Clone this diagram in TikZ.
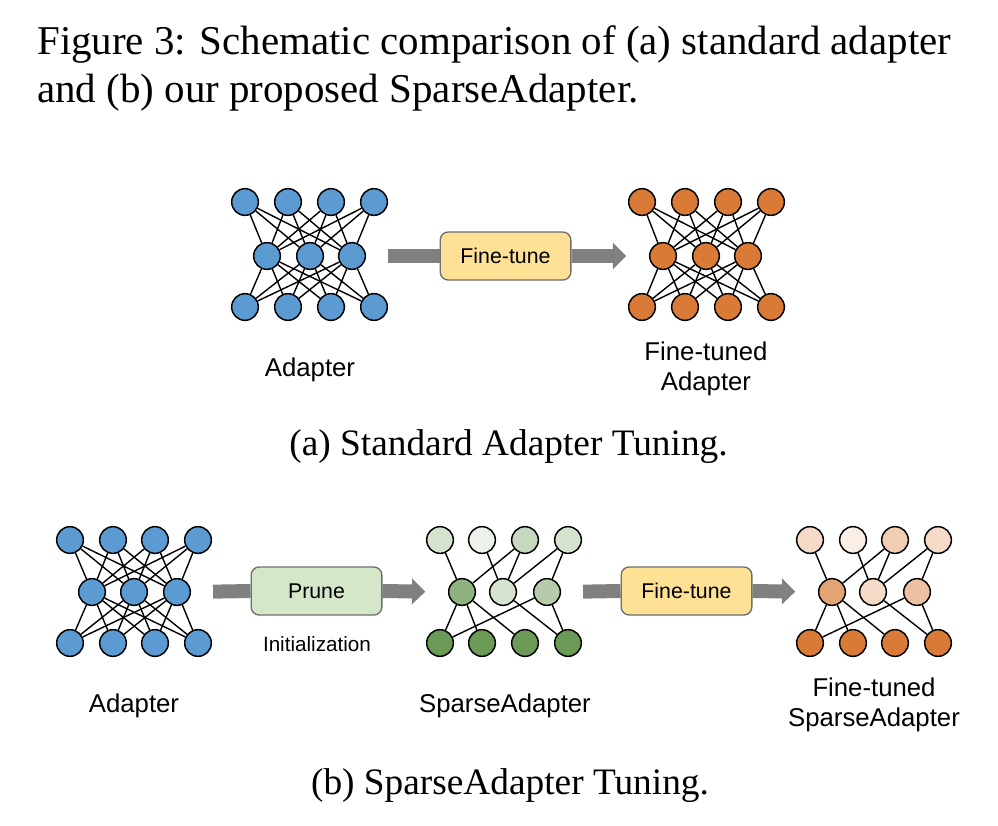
\documentclass[tikz,border=0pt]{standalone}
\usepackage{fontspec}
\setmainfont{Liberation Serif}
\setsansfont{Liberation Sans}
\usetikzlibrary{arrows.meta}

\definecolor{adblue}{HTML}{5B9BD2}
\definecolor{adorange}{HTML}{D97B36}
\definecolor{adgreen}{HTML}{6A9A55}
\definecolor{tunefill}{HTML}{FFE196}
\definecolor{prunefill}{HTML}{D4E7C8}
\definecolor{bargray}{HTML}{808080}
\definecolor{boxline}{HTML}{6E6E6E}

\begin{document}
\begin{tikzpicture}[
    x=0.75pt, y=-0.75pt,
    neuron/.style={circle,draw,line width=1.1pt,minimum size=20pt,inner sep=0pt},
    link/.style={line width=1.05pt},
    flow/.style={draw=bargray,line width=10.5pt},
    flow tip/.style={flow,-{Triangle[length=10pt,width=19pt]},shorten >=17pt},
    op box/.style={draw=boxline,line width=1pt,rounded corners=6pt,minimum width=98pt,
        minimum height=36pt,font=\sffamily\fontsize{16}{19}\selectfont},
    name text/.style={align=center,font=\sffamily\fontsize{19.3}{22.5}\selectfont},
    caption text/.style={font=\fontsize{28}{34}\selectfont},
    title text/.style={anchor=base west,inner sep=0pt,font=\fontsize{30.7}{36}\selectfont}
    ]
    \path[fill=white,use as bounding box] (0,0) rectangle (998,825);
    % title
    \node[title text] (title1) at (37,54)
        {Figure 3: Schematic comparison of (a) standard adapter};
    \node[title text] (title2) at (37,102)
        {and (b) our proposed SparseAdapter.};

    % (a) adapter
    \foreach \i/\x in {1/245,2/288,3/331,4/374} {
        \node[neuron,fill=adblue] (a-t\i) at (\x,202) {};
        \node[neuron,fill=adblue] (a-b\i) at (\x,307) {};
    }
    \foreach \j/\x in {1/267,2/310,3/352}
        \node[neuron,fill=adblue] (a-m\j) at (\x,256) {};
    \foreach \i in {1,...,4}
        \foreach \j in {1,2,3}
            \draw[link] (a-t\i) -- (a-m\j) (a-m\j) -- (a-b\i);
    % (a) fine-tuned adapter
    \foreach \i/\x in {1/642,2/685,3/728,4/771} {
        \node[neuron,fill=adorange] (f-t\i) at (\x,202) {};
        \node[neuron,fill=adorange] (f-b\i) at (\x,307) {};
    }
    \foreach \j/\x in {1/663,2/706,3/748}
        \node[neuron,fill=adorange] (f-m\j) at (\x,256) {};
    \foreach \i in {1,...,4}
        \foreach \j in {1,2,3}
            \draw[link] (f-t\i) -- (f-m\j) (f-m\j) -- (f-b\i);
    % (a) fine-tune step
    \node[op box,fill=tunefill] (tune a) at (505.5,256) {Fine-tune};
    \draw[flow,shorten <=16.5pt] (a-m3.east) -- (tune a.west);
    \draw[flow tip] (tune a.east) -- (f-m1.west);
    % (a) labels
    \node[name text] (adapter a) at (310,370) {Adapter};
    \node[name text] (tuned a) at (706,369) {Fine-tuned\\Adapter};
    \node[caption text] (cap a) at (508.5,447) {(a) Standard Adapter Tuning.};

    % (b) adapter
    \foreach \i/\x in {1/70,2/113,3/155,4/198} {
        \node[neuron,fill=adblue] (b-t\i) at (\x,540) {};
        \node[neuron,fill=adblue] (b-b\i) at (\x,643) {};
    }
    \foreach \j/\x in {1/92,2/134,3/177}
        \node[neuron,fill=adblue] (b-m\j) at (\x,592) {};
    \foreach \i in {1,...,4}
        \foreach \j in {1,2,3}
            \draw[link] (b-t\i) -- (b-m\j) (b-m\j) -- (b-b\i);
    % (b) sparse adapter
    \foreach \i/\x/\c in {1/440/28,2/482/13,3/525/38,4/568/28}
        \node[neuron,fill=adgreen!\c!white] (s-t\i) at (\x,540) {};
    \foreach \j/\x/\c in {1/462/75,2/503/28,3/547/50}
        \node[neuron,fill=adgreen!\c!white] (s-m\j) at (\x,592) {};
    \foreach \i/\x in {1/440,2/482,3/525,4/568}
        \node[neuron,fill=adgreen] (s-b\i) at (\x,643) {};
    \foreach \u/\v in {t1/m1,t2/m2,t3/m1,t3/m2,t4/m2,t4/m3,m1/b1,m1/b2,m1/b3,m2/b4,m3/b1,m3/b4}
        \draw[link] (s-\u) -- (s-\v);
    % (b) fine-tuned sparse adapter
    \foreach \i/\x/\c in {1/810/28,2/853/13,3/895/38,4/938/28}
        \node[neuron,fill=adorange!\c!white] (p-t\i) at (\x,540) {};
    \foreach \j/\x/\c in {1/832/70,2/873/28,3/917/48}
        \node[neuron,fill=adorange!\c!white] (p-m\j) at (\x,592) {};
    \foreach \i/\x in {1/810,2/853,3/895,4/938}
        \node[neuron,fill=adorange] (p-b\i) at (\x,643) {};
    \foreach \u/\v in {t1/m1,t2/m2,t3/m1,t3/m2,t4/m2,t4/m3,m1/b1,m1/b2,m1/b3,m2/b4,m3/b1,m3/b4}
        \draw[link] (p-\u) -- (p-\v);
    % (b) prune and fine-tune steps
    \node[op box,fill=prunefill] (prune) at (316.5,591) {Prune};
    \node[font=\sffamily\fontsize{15.5}{18}\selectfont] (init) at (317,644) {Initialization};
    \draw[flow,shorten <=16.5pt] (b-m3.east) -- (prune.west);
    \draw[flow tip] (prune.east) -- (s-m1.west);
    \node[op box,fill=tunefill] (tune b) at (686.5,591) {Fine-tune};
    \draw[flow,shorten <=16.5pt] (s-m3.east) -- (tune b.west);
    \draw[flow tip] (tune b.east) -- (p-m1.west);
    % (b) labels
    \node[name text] (adapter b) at (134,706) {Adapter};
    \node[name text] (sparse b) at (505,706) {SparseAdapter};
    \node[name text] (tuned b) at (874,705) {Fine-tuned\\SparseAdapter};
    \node[caption text] (cap b) at (510,786) {(b) SparseAdapter Tuning.};
\end{tikzpicture}
\end{document}
